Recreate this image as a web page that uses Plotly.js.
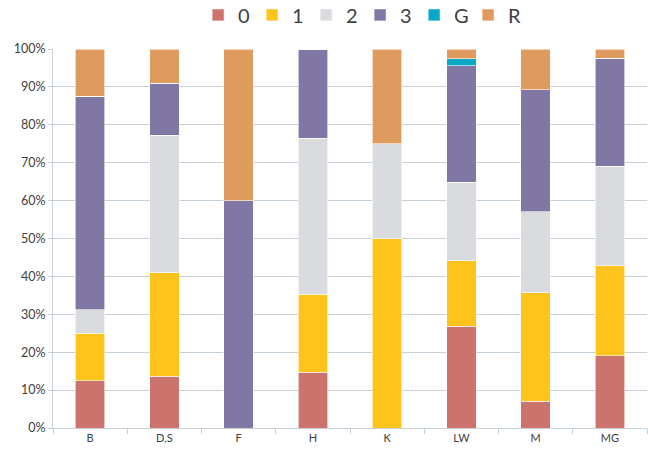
<!DOCTYPE html>
<html>
<head>
<meta charset="utf-8">
<script src="https://cdn.plot.ly/plotly-3.0.1.min.js"></script>
<style>body{margin:0;padding:0;background:#fff}#chart{width:648px;height:455px}</style>
</head>
<body>
<div id="chart"></div>
<script>
const categories = ['B', 'D,S', 'F', 'H', 'K', 'LW', 'M', 'MG'];
const seriesNames = ['0', '1', '2', '3', 'G', 'R'];
const s0 = [12.5, 13.6, 0, 14.7, 0, 26.9, 7.1, 19.0];
const s1 = [12.5, 27.3, 0, 20.6, 50, 17.2, 28.6, 23.8];
const s2 = [6.25, 36.4, 0, 41.2, 25, 20.7, 21.4, 26.2];
const s3 = [56.25, 13.6, 60, 23.5, 0, 30.8, 32.2, 28.6];
const sG = [0, 0, 0, 0, 0, 1.8, 0, 0];
const sR = [12.5, 9.1, 40, 0, 25, 2.6, 10.7, 2.4];
const yTicks = [0, 10, 20, 30, 40, 50, 60, 70, 80, 90, 100];

const seriesValues = [s0, s1, s2, s3, sG, sR];
const colors = ['#CC736D', '#FEC41C', '#D9DBDF', '#8077A4', '#0BA8C8', '#DF9A5E'];

const traces = seriesValues.map((vals, i) => ({
  type: 'bar',
  name: seriesNames[i],
  x: categories,
  y: vals,
  marker: {color: colors[i], line: {color: '#ffffff', width: 0.6}},
  width: 0.4,
  hoverinfo: 'x+y+name'
}));

const layout = {
  width: 648,
  height: 455,
  barmode: 'stack',
  margin: {l: 53, r: 1, t: 49, b: 27, autoexpand: false},
  paper_bgcolor: '#ffffff',
  plot_bgcolor: '#ffffff',
  font: {family: 'Lato, "Open Sans", sans-serif', color: '#404040', size: 12},
  showlegend: true,
  legend: {
    orientation: 'h',
    x: 0.517, xanchor: 'center',
    y: 1.09, yanchor: 'middle',
    font: {size: 20, color: '#404040'},
    itemwidth: 30,
    entrywidth: 9,
    entrywidthmode: 'pixels',
    traceorder: 'normal'
  },
  xaxis: {
    type: 'category',
    showgrid: false,
    showline: true,
    linecolor: '#C6D0D9',
    linewidth: 1,
    ticks: 'outside',
    tickson: 'boundaries',
    ticklen: 5,
    tickcolor: '#C6D0D9',
    tickfont: {size: 11, color: '#404040'},
    fixedrange: true
  },
  yaxis: {
    range: [0, 100],
    tickvals: yTicks,
    ticktext: yTicks.map(v => v + '%'),
    showgrid: true,
    gridcolor: '#C6D0D9',
    gridwidth: 1,
    showline: true,
    linecolor: '#C6D0D9',
    ticks: 'outside',
    ticklen: 4,
    tickcolor: '#C6D0D9',
    tickfont: {size: 12.5, color: '#404040'},
    zeroline: false,
    fixedrange: true
  }
};

Plotly.newPlot('chart', traces, layout, {displayModeBar: false, staticPlot: true});
</script>
</body>
</html>
